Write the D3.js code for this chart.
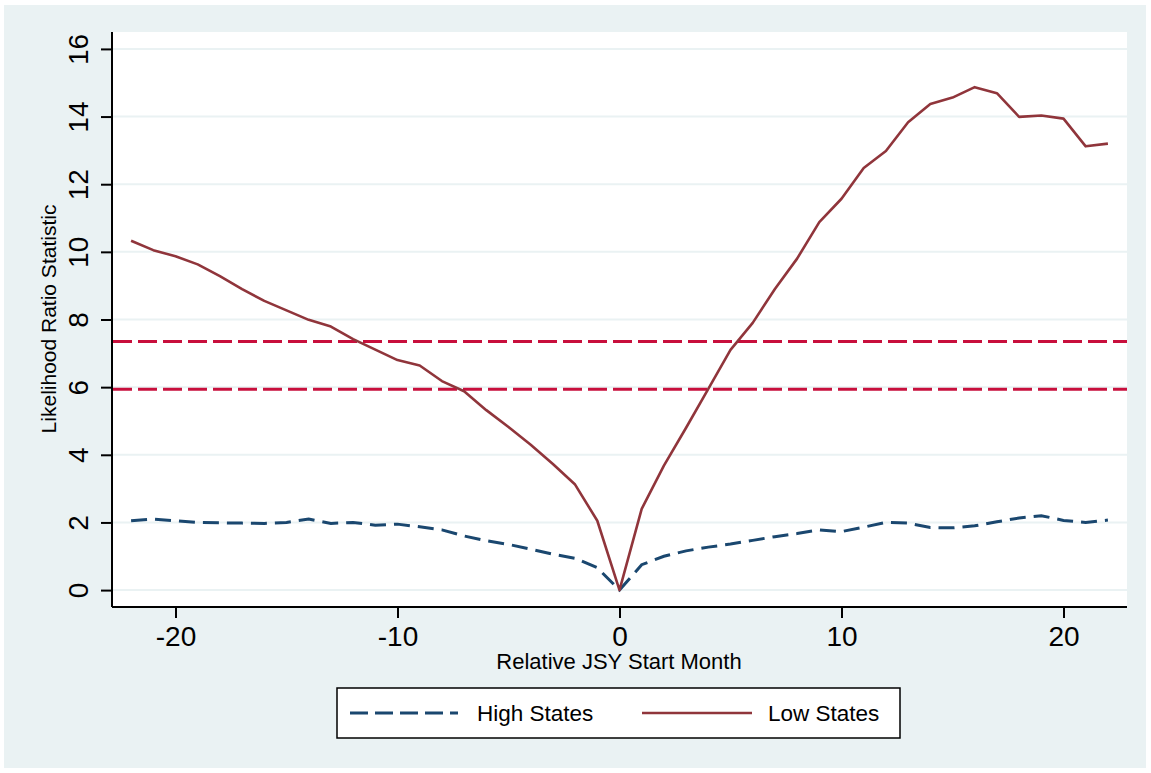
<!DOCTYPE html>
<html>
<head>
<meta charset="utf-8">
<script src="https://cdn.jsdelivr.net/npm/d3@7"></script>
<style>
  html, body { margin: 0; padding: 0; background: #ffffff; }
  svg { display: block; font-family: "Liberation Sans", Arial, sans-serif; }
</style>
</head>
<body>
<svg id="chart" width="1151" height="773"></svg>
<script>
// ---- data ----
const months = [-22,-21,-20,-19,-18,-17,-16,-15,-14,-13,-12,-11,-10,-9,-8,-7,-6,-5,-4,-3,-2,-1,0,
                1,2,3,4,5,6,7,8,9,10,11,12,13,14,15,16,17,18,19,20,21,22];
const lowStates = [10.33,10.05,9.87,9.63,9.28,8.90,8.55,8.27,7.99,7.79,7.42,7.11,6.80,6.64,6.18,5.88,5.32,4.82,4.30,3.73,3.12,2.05,0,
                   2.40,3.68,4.80,5.95,7.10,7.90,8.90,9.80,10.88,11.57,12.48,12.98,13.83,14.37,14.56,14.87,14.69,13.99,14.03,13.94,13.12,13.20];
const highStates = [2.05,2.10,2.05,2.00,1.99,1.98,1.97,2.00,2.10,1.97,2.00,1.92,1.95,1.87,1.78,1.60,1.46,1.35,1.21,1.06,0.94,0.66,0,
                    0.75,1.00,1.16,1.27,1.36,1.47,1.58,1.67,1.78,1.73,1.86,2.00,1.98,1.85,1.84,1.90,2.02,2.13,2.20,2.06,2.00,2.07];
const criticalValues = [7.35, 5.94];
const xTicks = [-20, -10, 0, 10, 20];
const yTicks = [0, 2, 4, 6, 8, 10, 12, 14, 16];
const xTitle = "Relative JSY Start Month";
const yTitle = "Likelihood Ratio Statistic";
const legendLabels = ["High States", "Low States"];

// ---- styles ----
const colNavy = "#1a476f";
const colMaroon = "#90353b";
const colCrit = "#c80f3c";
const colBg = "#eaf2f3";

const svg = d3.select("#chart");
const plot = { left: 112, right: 1127, top: 32, bottom: 607 };
const fmt = d => String(d);

svg.append("rect").attr("x", 4).attr("y", 5).attr("width", 1142).attr("height", 763).attr("fill", colBg);
svg.append("rect").attr("x", plot.left).attr("y", plot.top)
   .attr("width", plot.right - plot.left).attr("height", plot.bottom - plot.top).attr("fill", "#ffffff");

const x = d3.scaleLinear().domain([-22.86, 22.86]).range([plot.left, plot.right]);
const y = d3.scaleLinear().domain([-0.5, 16.5]).range([plot.bottom, plot.top]);

// grid
svg.append("g").selectAll("line").data(yTicks).join("line")
  .attr("x1", plot.left).attr("x2", plot.right)
  .attr("y1", d => y(d)).attr("y2", d => y(d))
  .attr("stroke", colBg).attr("stroke-width", 2);

// critical value lines
svg.append("g").selectAll("line").data(criticalValues).join("line")
  .attr("x1", plot.left + 1).attr("x2", plot.right)
  .attr("y1", d => y(d)).attr("y2", d => y(d))
  .attr("stroke", colCrit).attr("stroke-width", 3)
  .attr("stroke-dasharray", "19,6");

const highData = months.map((m, i) => [m, highStates[i]]);
const lowData = months.map((m, i) => [m, lowStates[i]]);
const line = d3.line().x(d => x(d[0])).y(d => y(d[1]));

svg.append("path").datum(highData).attr("d", line)
  .attr("fill", "none").attr("stroke", colNavy).attr("stroke-width", 3)
  .attr("stroke-dasharray", "16,8");
svg.append("path").datum(lowData).attr("d", line)
  .attr("fill", "none").attr("stroke", colMaroon).attr("stroke-width", 2.6)
  .attr("stroke-linejoin", "round");

// axes
const yAxis = svg.append("g").attr("transform", `translate(${plot.left},0)`)
  .call(d3.axisLeft(y).tickValues(yTicks).tickSize(11).tickFormat(fmt));
yAxis.select(".domain").attr("d", `M0,${plot.top}V${plot.bottom}`).attr("stroke", "#000").attr("stroke-width", 2);
yAxis.selectAll(".tick line").attr("stroke", "#000").attr("stroke-width", 2);
yAxis.selectAll(".tick text")
  .attr("x", null).attr("dy", null)
  .attr("transform", "translate(-24,0) rotate(-90)")
  .attr("text-anchor", "middle")
  .attr("font-size", 28).attr("fill", "#000")
  .attr("font-family", "Liberation Sans, Arial, sans-serif");

const xAxis = svg.append("g").attr("transform", `translate(0,${plot.bottom})`)
  .call(d3.axisBottom(x).tickValues(xTicks).tickSize(11).tickFormat(fmt));
xAxis.select(".domain").attr("d", `M${plot.left},0H${plot.right}`).attr("stroke", "#000").attr("stroke-width", 2);
xAxis.selectAll(".tick line").attr("stroke", "#000").attr("stroke-width", 2);
xAxis.selectAll(".tick text")
  .attr("y", 39).attr("dy", null)
  .attr("font-size", 28).attr("fill", "#000")
  .attr("font-family", "Liberation Sans, Arial, sans-serif");

// titles
svg.append("text").attr("x", 619).attr("y", 669).attr("text-anchor", "middle")
  .attr("font-size", 22).attr("fill", "#000").text(xTitle);
svg.append("text").attr("transform", "translate(56,319) rotate(-90)").attr("text-anchor", "middle")
  .attr("font-size", 21).attr("fill", "#000").text(yTitle);

// legend
const lg = svg.append("g");
lg.append("rect").attr("x", 337).attr("y", 688).attr("width", 563).attr("height", 50)
  .attr("fill", "#fff").attr("stroke", "#000").attr("stroke-width", 1.5);
lg.append("line").attr("x1", 350).attr("x2", 458).attr("y1", 713).attr("y2", 713)
  .attr("stroke", colNavy).attr("stroke-width", 3).attr("stroke-dasharray", "18,7");
lg.append("text").attr("x", 477).attr("y", 721).attr("font-size", 22.5).attr("fill", "#000").text(legendLabels[0]);
lg.append("line").attr("x1", 642).attr("x2", 752).attr("y1", 713).attr("y2", 713)
  .attr("stroke", colMaroon).attr("stroke-width", 2.6);
lg.append("text").attr("x", 768).attr("y", 721).attr("font-size", 22.5).attr("fill", "#000").text(legendLabels[1]);
</script>
</body>
</html>
